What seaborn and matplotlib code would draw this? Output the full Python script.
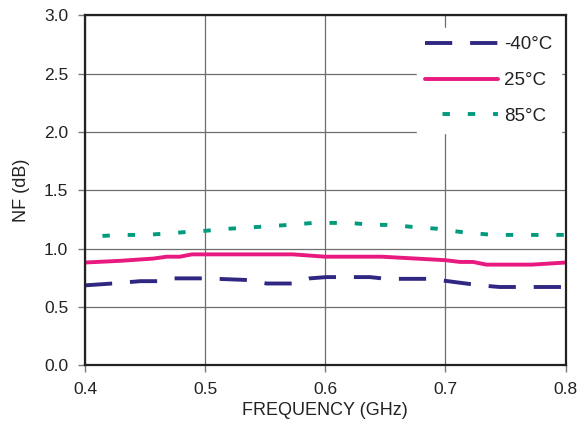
import matplotlib
matplotlib.use("Agg")
import matplotlib.pyplot as plt
import seaborn as sns
import pandas as pd

# data
freq_m40 = [0.40, 0.423, 0.446, 0.465, 0.472, 0.50, 0.535, 0.551, 0.573, 0.587, 0.601, 0.623, 0.637, 0.651, 0.673, 0.687, 0.729, 0.745, 0.80]
nf_m40 = [0.684, 0.70, 0.72, 0.72, 0.744, 0.744, 0.73, 0.70, 0.70, 0.744, 0.755, 0.755, 0.755, 0.74, 0.74, 0.74, 0.684, 0.67, 0.67]

freq_25 = [0.40, 0.43, 0.457, 0.468, 0.479, 0.489, 0.573, 0.60, 0.647, 0.70, 0.712, 0.723, 0.734, 0.772, 0.80]
nf_25 = [0.88, 0.895, 0.914, 0.93, 0.93, 0.95, 0.95, 0.93, 0.93, 0.90, 0.885, 0.885, 0.862, 0.862, 0.88]

freq_85 = [0.40, 0.43, 0.45, 0.47, 0.49, 0.50, 0.52, 0.545, 0.57, 0.59, 0.62, 0.64, 0.655, 0.672, 0.693, 0.70, 0.72, 0.74, 0.80]
nf_85 = [1.10, 1.117, 1.117, 1.13, 1.147, 1.152, 1.17, 1.186, 1.203, 1.22, 1.22, 1.203, 1.203, 1.186, 1.17, 1.158, 1.134, 1.117, 1.117]

labels = ["-40°C", "25°C", "85°C"]
x_ticks = [0.4, 0.5, 0.6, 0.7, 0.8]
y_ticks = [0.0, 0.5, 1.0, 1.5, 2.0, 2.5, 3.0]

sns.set_style("white")
plt.rcParams["font.family"] = ["Liberation Sans", "DejaVu Sans"]

fig = plt.figure(figsize=(5.84, 4.30), dpi=100)
ax = fig.add_axes([0.1455, 0.151, 0.823, 0.813])

df = pd.concat([
    pd.DataFrame({"f": freq_m40, "nf": nf_m40, "T": labels[0]}),
    pd.DataFrame({"f": freq_25, "nf": nf_25, "T": labels[1]}),
    pd.DataFrame({"f": freq_85, "nf": nf_85, "T": labels[2]}),
])

colors = ["#2f2782", "#e8197f", "#009b7d"]
styles = [(0, (7.0, 4.6)), "-", (2.0, (1.9, 4.6))]
for lab, c, ls in zip(labels, colors, styles):
    sub = df[df["T"] == lab]
    sns.lineplot(data=sub, x="f", y="nf", ax=ax, color=c, linewidth=2.8,
                 label=lab, sort=False, estimator=None)
    ax.lines[-1].set_linestyle(ls)
    ax.lines[-1].set_dash_capstyle("butt")

ax.set_xlim(0.4, 0.8)
ax.set_ylim(0, 3.0)
ax.set_xticks(x_ticks)
ax.set_yticks(y_ticks)
ax.set_xticklabels([f"{v:.1f}" for v in x_ticks], fontsize=12.5)
ax.set_yticklabels([f"{v:.1f}" for v in y_ticks], fontsize=12.5)
ax.grid(True, color="#6e6e6e", linewidth=0.9)
ax.set_axisbelow(True)
for s in ax.spines.values():
    s.set_color("#222222")
    s.set_linewidth(1.6)
    s.set_visible(True)
ax.tick_params(axis="both", direction="out", length=5, width=1, color="#7a7a7a",
               labelcolor="#222222", left=True, bottom=True)
ax.tick_params(axis="x", pad=7)
ax.tick_params(axis="y", pad=7)
ax.set_xlabel("FREQUENCY (GHz)", fontsize=13, color="#222222", labelpad=4)
ax.set_ylabel("NF (dB)", fontsize=13, color="#222222", labelpad=10)

leg = ax.legend(loc="upper right", bbox_to_anchor=(0.99, 0.965), frameon=True,
                fancybox=False, framealpha=1, edgecolor="white", facecolor="white",
                fontsize=13.5, handlelength=3.9, handletextpad=0.3, labelspacing=1.0,
                borderpad=0.45, borderaxespad=0)
for t in leg.get_texts():
    t.set_color("#222222")

fig.savefig("out.png", dpi=100)
